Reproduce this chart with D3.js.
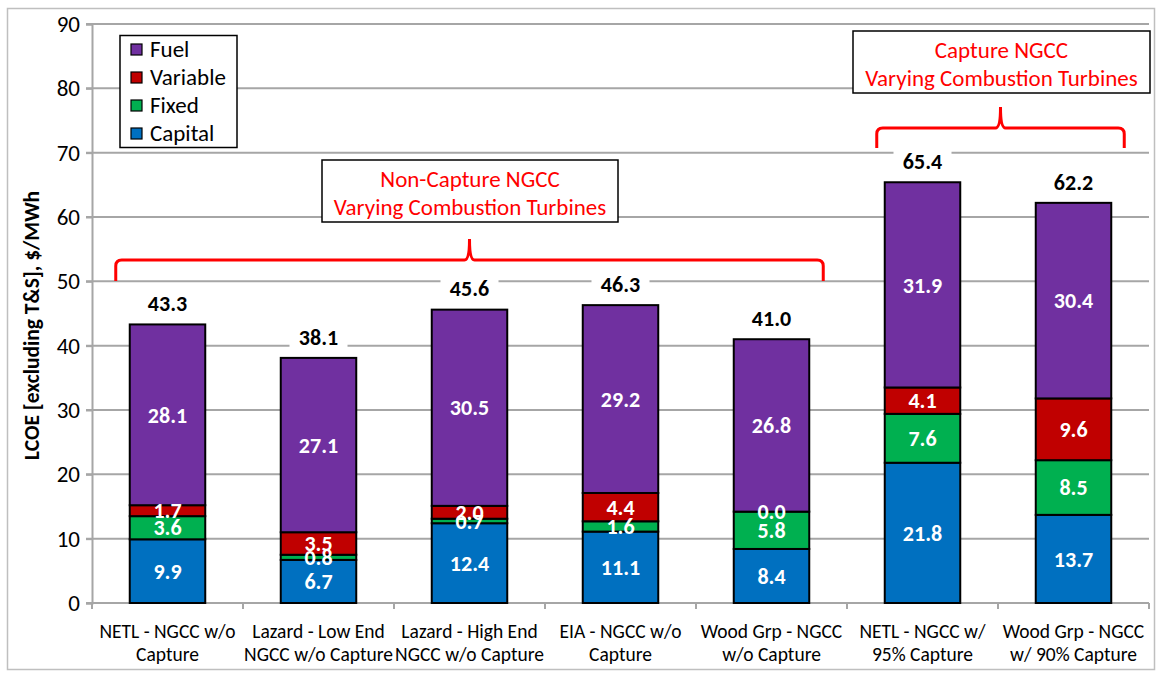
<!DOCTYPE html>
<html><head><meta charset="utf-8">
<script src="https://cdn.jsdelivr.net/npm/d3@7"></script>
<style>
html,body{margin:0;padding:0;background:#fff;}
svg{display:block;font-family:Carlito,Calibri,Lato,"Open Sans",sans-serif;}
</style></head>
<body><svg id="c" width="1159" height="675"></svg>
<script>
// ---- data ----
const categories = [
  ["NETL - NGCC w/o", "Capture"],
  ["Lazard - Low End", "NGCC w/o Capture"],
  ["Lazard - High End", "NGCC w/o Capture"],
  ["EIA - NGCC w/o", "Capture"],
  ["Wood Grp - NGCC", "w/o Capture"],
  ["NETL - NGCC w/", "95% Capture"],
  ["Wood Grp - NGCC", "w/ 90% Capture"]
];
const seriesNames = ["Capital", "Fixed", "Variable", "Fuel"];
const capital  = [9.9, 6.7, 12.4, 11.1, 8.4, 21.8, 13.7];
const fixed    = [3.6, 0.8, 0.7, 1.6, 5.8, 7.6, 8.5];
const variable = [1.7, 3.5, 2.0, 4.4, 0.0, 4.1, 9.6];
const fuel     = [28.1, 27.1, 30.5, 29.2, 26.8, 31.9, 30.4];
const yTicks = [0, 10, 20, 30, 40, 50, 60, 70, 80, 90];
const groupLabels = [
  ["Non-Capture NGCC", "Varying Combustion Turbines"],
  ["Capture NGCC", "Varying Combustion Turbines"]
];
const groupRanges = [[0, 4], [5, 6]];
const yTitle = "LCOE [excluding T&S], $/MWh";

// ---- build ----
const colors = {Capital: "#0070c0", Fixed: "#00b050", Variable: "#c00000", Fuel: "#7030a0"};
const seriesValues = {Capital: capital, Fixed: fixed, Variable: variable, Fuel: fuel};
const rows = categories.map((c, i) => {
  const r = {idx: i};
  seriesNames.forEach(s => r[s] = seriesValues[s][i]);
  return r;
});
const stacked = d3.stack().keys(seriesNames)(rows);
const totals = rows.map(r => seriesNames.reduce((a, s) => a + r[s], 0));

const svg = d3.select("#c");
const m = {left: 92, right: 1149, top: 24, bottom: 603};
const x = d3.scaleBand().domain(d3.range(categories.length)).range([m.left, m.right]).paddingInner(0.5).paddingOuter(0.25);
const y = d3.scaleLinear().domain([0, 90]).range([m.bottom, m.top]);
const gridColor = "#a6a6a6";
const FONT = "Carlito,Calibri,Lato,sans-serif";

// outer frame
svg.append("rect").attr("x", 7.5).attr("y", 8.5).attr("width", 1147).attr("height", 661)
  .attr("fill", "#fff").attr("stroke", "#bfbfbf").attr("stroke-width", 1.5);

// gridlines
svg.append("g").selectAll("line").data(yTicks.filter(t => t > 0)).join("line")
  .attr("x1", m.left - 6).attr("x2", m.right).attr("y1", d => y(d)).attr("y2", d => y(d))
  .attr("stroke", gridColor).attr("stroke-width", 2);

// y axis
const yAxis = svg.append("g").attr("transform", `translate(${m.left},0)`)
  .call(d3.axisLeft(y).tickValues(yTicks).tickSize(6).tickPadding(6));
yAxis.select(".domain").attr("stroke", gridColor).attr("stroke-width", 2);
yAxis.selectAll(".tick line").attr("stroke", gridColor).attr("stroke-width", 2);
yAxis.selectAll("text").attr("font-size", 23).attr("fill", "#000").attr("font-family", FONT);

// x axis
const boundaries = d3.range(categories.length + 1).map(i => m.left + i * (m.right - m.left) / categories.length);
svg.append("line").attr("x1", m.left - 6).attr("x2", m.right).attr("y1", m.bottom).attr("y2", m.bottom)
  .attr("stroke", gridColor).attr("stroke-width", 2);
svg.append("g").selectAll("line").data(boundaries).join("line")
  .attr("x1", d => d).attr("x2", d => d).attr("y1", m.bottom).attr("y2", m.bottom + 6)
  .attr("stroke", gridColor).attr("stroke-width", 2);
const xl = svg.append("g").selectAll("text").data(categories).join("text")
  .attr("x", (d, i) => x(i) + x.bandwidth() / 2).attr("y", 638)
  .attr("text-anchor", "middle").attr("font-size", 19.5).attr("fill", "#000");
xl.selectAll("tspan").data(d => d).join("tspan")
  .attr("x", function() { return d3.select(this.parentNode).attr("x"); })
  .attr("dy", (d, i) => i === 0 ? 0 : 23).text(d => d);

// bars
const layers = svg.append("g").selectAll("g").data(stacked).join("g").attr("fill", d => colors[d.key]);
layers.selectAll("rect").data(d => d).join("rect")
  .attr("x", d => x(d.data.idx)).attr("width", x.bandwidth())
  .attr("y", d => y(d[1])).attr("height", d => y(d[0]) - y(d[1]))
  .attr("stroke", "#000").attr("stroke-width", 2);

// segment labels
stacked.forEach(layer => {
  svg.append("g").selectAll("text").data(layer).join("text")
    .attr("x", d => x(d.data.idx) + x.bandwidth() / 2)
    .attr("y", d => y((d[0] + d[1]) / 2))
    .attr("dy", "0.35em").attr("text-anchor", "middle")
    .attr("font-size", 22).attr("font-weight", "bold").attr("fill", "#fff")
    .text(d => (d[1] - d[0]).toFixed(1));
});

// total labels
const tg = svg.append("g").selectAll("g").data(totals).join("g")
  .attr("transform", (d, i) => `translate(${x(i) + x.bandwidth() / 2},${y(d) - 21})`);
tg.append("rect").attr("x", -29).attr("y", -12).attr("width", 58).attr("height", 24).attr("fill", "#fff");
tg.append("text").attr("text-anchor", "middle").attr("dy", "0.35em")
  .attr("font-size", 22).attr("font-weight", "bold").attr("fill", "#000")
  .text(d => d.toFixed(1));

// legend
const lg = svg.append("g");
lg.append("rect").attr("x", 120).attr("y", 35.5).attr("width", 117).attr("height", 112)
  .attr("fill", "#fff").attr("stroke", "#000").attr("stroke-width", 1.5);
const legendOrder = seriesNames.slice().reverse();
const li = lg.selectAll("g.item").data(legendOrder).join("g")
  .attr("transform", (d, i) => `translate(131,${49 + i * 28})`);
li.append("rect").attr("x", 0).attr("y", -5).attr("width", 11).attr("height", 11)
  .attr("fill", d => colors[d]).attr("stroke", "#000").attr("stroke-width", 1.2);
li.append("text").attr("x", 19).attr("y", 0).attr("dy", "0.35em").attr("font-size", 23).attr("fill", "#000").text(d => d);

// group annotations
const annot = [
  {box: [322, 160, 296, 62], brace: {y: 260, drop: 21, tipUp: 21}, pad: [14, 14]},
  {box: [853, 31, 297, 62], brace: {y: 128, drop: 20, tipUp: 21}, pad: [8, 13]}
];
groupRanges.forEach((gr, gi) => {
  const a = annot[gi];
  const x0 = x(gr[0]) - a.pad[0];
  const x1 = x(gr[1]) + x.bandwidth() + a.pad[1];
  const cx = (x0 + x1) / 2;
  const by = a.brace.y, r = 6;
  const p = d3.path();
  p.moveTo(x0, by + a.brace.drop);
  p.lineTo(x0, by + r);
  p.quadraticCurveTo(x0, by, x0 + r, by);
  p.lineTo(cx - 5, by);
  p.quadraticCurveTo(cx, by, cx, by - a.brace.tipUp);
  p.quadraticCurveTo(cx, by, cx + 5, by);
  p.lineTo(x1 - r, by);
  p.quadraticCurveTo(x1, by, x1, by + r);
  p.lineTo(x1, by + a.brace.drop);
  svg.append("path").attr("d", p.toString()).attr("fill", "none").attr("stroke", "#ff0000").attr("stroke-width", 3);
  const [bx, byy, bw, bh] = a.box;
  svg.append("rect").attr("x", bx).attr("y", byy).attr("width", bw).attr("height", bh)
    .attr("fill", "#fff").attr("stroke", "#000").attr("stroke-width", 1.5);
  svg.append("g").selectAll("text").data(groupLabels[gi]).join("text")
    .attr("x", bx + bw / 2).attr("y", (d, i) => byy + 19 + i * 28).attr("dy", "0.35em")
    .attr("text-anchor", "middle").attr("font-size", 23).attr("fill", "#ff0000").text(d => d);
});

// y title
svg.append("text").attr("transform", `translate(31,${(m.top + m.bottom) / 2 + 12}) rotate(-90)`)
  .attr("text-anchor", "middle").attr("dy", "0.35em").attr("font-size", 21.5).attr("font-weight", "bold")
  .attr("fill", "#000").text(yTitle);
</script></body></html>
